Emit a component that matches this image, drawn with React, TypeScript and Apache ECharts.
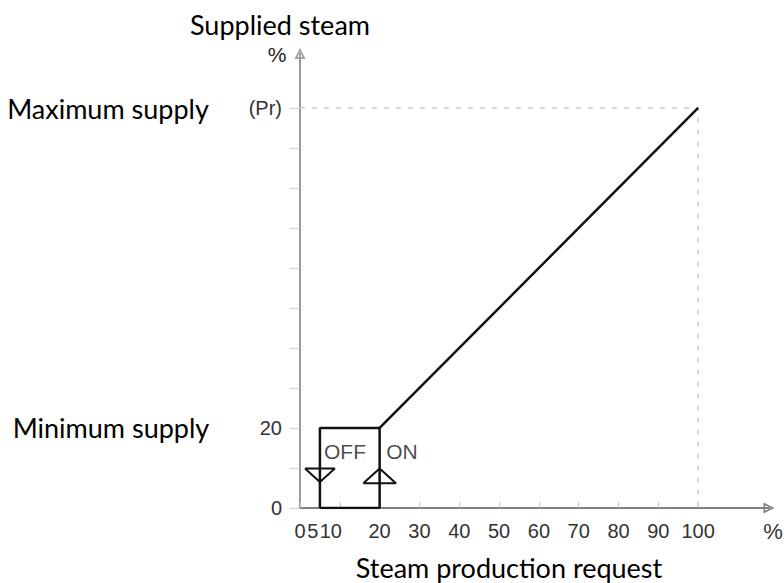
import React, { useEffect, useRef } from "react";
import * as echarts from "echarts";

// ---- data ----
const X_TICKS = [0, 10, 20, 30, 40, 50, 60, 70, 80, 90, 100];
const X_LABELS = [0, 5, 10, 20, 30, 40, 50, 60, 70, 80, 90, 100];
const Y_TICKS = [0, 10, 20, 30, 40, 50, 60, 70, 80, 90, 100];
const Y_LABELS = [0, 20, 100];
const PR_VALUE = 100;
const HYSTERESIS_BOX = [[5, 0], [5, 20], [20, 20], [20, 0], [5, 0]];
const RAMP = [[20, 20], [100, 100]];
const GUIDE = [[0, 100], [100, 100], [100, 0]];
const OFF_TRIANGLE = [[1.25, 9.9], [8.75, 9.9], [5, 6.5], [1.25, 9.9]];
const ON_TRIANGLE = [[15.9, 6.2], [24.1, 6.2], [20, 9.9], [15.9, 6.2]];
const STATE_LABELS = [
  { name: "OFF", value: [11.3, 14] },
  { name: "ON", value: [25.6, 14] },
];
const X_MAX = 117.8;
const Y_MAX = 113.6;

const ARROW =
  "path://M5,0 L10,10 L0,10 Z M5,3 L2.5,8.5 L7.5,8.5 Z";

const TICK_FONT = "'Liberation Sans', Arial, sans-serif";
const NOTE_FONT = "Lato, 'Noto Sans', sans-serif";

export default function App() {
  const ref = useRef<HTMLDivElement>(null);
  useEffect(() => {
    if (!ref.current) return;
    const chart = echarts.init(ref.current, null, { renderer: "svg" });
    const blackLine = { color: "#111", width: 2.5 };
    const tickText = { fontFamily: TICK_FONT, fontSize: 20, color: "#333" };
    chart.setOption({
      animation: false,
      backgroundColor: "#fff",
      grid: { left: 300, top: 53.5, right: 15, bottom: 75, containLabel: false },
      xAxis: {
        type: "value",
        min: 0,
        max: X_MAX,
        interval: 10,
        splitLine: { show: false },
        axisLine: {
          show: true,
          symbol: ["none", ARROW],
          symbolSize: [11, 13],
          lineStyle: { color: "#808080", width: 2 },
        },
        axisTick: {
          show: true,
          inside: true,
          length: 6,
          customValues: X_TICKS,
          lineStyle: { color: "#c8c8c8", width: 1 },
        },
        axisLabel: {
          customValues: X_LABELS,
          margin: 13,
          ...tickText,
          formatter: (v: number) =>
            v === 5 ? "{a|5}" : v === 10 ? "{b|10}" : String(v),
          rich: {
            a: { ...tickText, padding: [0, 14, 0, 0] },
            b: { ...tickText, padding: [0, 18, 0, 0] },
          },
        },
      },
      yAxis: {
        type: "value",
        min: 0,
        max: Y_MAX,
        interval: 10,
        splitLine: { show: false },
        axisLine: {
          show: true,
          symbol: ["none", ARROW],
          symbolSize: [11, 13],
          lineStyle: { color: "#999", width: 2 },
        },
        axisTick: {
          show: true,
          length: 10,
          customValues: Y_TICKS,
          lineStyle: { color: "#cfcfcf", width: 1 },
        },
        axisLabel: {
          customValues: Y_LABELS,
          margin: 18,
          ...tickText,
          formatter: (v: number) => (v === PR_VALUE ? "(Pr)" : String(v)),
        },
      },
      series: [
        {
          type: "line",
          data: GUIDE,
          symbol: "none",
          lineStyle: { color: "#cccccc", width: 1.5, type: [5, 7] },
          z: 1,
        },
        { type: "line", data: HYSTERESIS_BOX, symbol: "none", lineStyle: blackLine, z: 3 },
        { type: "line", data: RAMP, symbol: "none", lineStyle: blackLine, z: 3 },
        { type: "line", data: OFF_TRIANGLE, symbol: "none", lineStyle: { color: "#111", width: 2 }, z: 3 },
        { type: "line", data: ON_TRIANGLE, symbol: "none", lineStyle: { color: "#111", width: 2 }, z: 3 },
        {
          type: "scatter",
          data: STATE_LABELS,
          symbolSize: 0,
          label: {
            show: true,
            position: "inside",
            formatter: (p: any) => p.name,
            fontFamily: TICK_FONT,
            fontSize: 21,
            color: "#1a1a1a",
          },
          z: 4,
        },
      ],
      graphic: [
        {
          type: "text",
          style: { text: "Supplied steam", x: 280, y: 24, align: "center", verticalAlign: "middle", font: `27px ${NOTE_FONT}`, fill: "#000" },
        },
        {
          type: "text",
          style: { text: "%", x: 277, y: 54, align: "center", verticalAlign: "middle", font: `21px ${TICK_FONT}`, fill: "#222" },
        },
        {
          type: "text",
          style: { text: "Maximum supply", x: 108, y: 108, align: "center", verticalAlign: "middle", font: `27px ${NOTE_FONT}`, fill: "#000" },
        },
        {
          type: "text",
          style: { text: "Minimum supply", x: 111, y: 427, align: "center", verticalAlign: "middle", font: `27px ${NOTE_FONT}`, fill: "#000" },
        },
        {
          type: "text",
          style: { text: "Steam production request", x: 509, y: 567, align: "center", verticalAlign: "middle", font: `27px ${NOTE_FONT}`, fill: "#000" },
        },
        {
          type: "text",
          style: { text: "%", x: 773, y: 531, align: "center", verticalAlign: "middle", font: `22px ${TICK_FONT}`, fill: "#333" },
        },
      ],
    });
    return () => chart.dispose();
  }, []);
  return <div ref={ref} style={{ width: 784, height: 583, position: "absolute", left: 0, top: 0 }} />;
}
